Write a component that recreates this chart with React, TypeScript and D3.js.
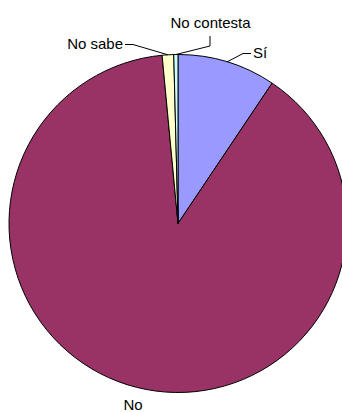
import React, { useEffect, useRef } from 'react'
import * as d3 from 'd3'

const categories = ['Sí', 'No', 'No sabe', 'No contesta']
const values = [9.4, 89.1, 1.1, 0.4]
const colors = ['#9999FF', '#993366', '#FFFFCC', '#CCFFFF']

const width = 342
const height = 412

// label layout: elbow point and text anchor, per slice
const labelLayout: Record<string, { elbow?: [number, number]; end?: [number, number]; text: [number, number]; anchor: string }> = {
  'Sí': { elbow: [243, 53.5], end: [251, 53.5], text: [253, 58], anchor: 'start' },
  'No': { text: [133, 410], anchor: 'middle' },
  'No sabe': { elbow: [133, 44.5], end: [125, 44.5], text: [123, 49], anchor: 'end' },
  'No contesta': { elbow: [210, 46], end: [210, 36], text: [210.5, 27.5], anchor: 'middle' },
}

export default function App() {
  const ref = useRef<SVGSVGElement | null>(null)
  useEffect(() => {
    if (!ref.current) return
    const svg = d3.select(ref.current)
    svg.selectAll('*').remove()

    const cx = 178
    const cy = 223.5
    const r = 169

    const data = categories.map((c, i) => ({ name: c, value: values[i], color: colors[i] }))
    const pie = d3.pie<any>().sort(null).value((d) => d.value)
    const arcs = pie(data)
    const arc = d3.arc<any>().innerRadius(0).outerRadius(r)

    const g = svg.append('g').attr('transform', `translate(${cx},${cy})`)
    g.selectAll('path')
      .data(arcs)
      .join('path')
      .attr('d', arc)
      .attr('fill', (d) => d.data.color)
      .attr('stroke', '#000')
      .attr('stroke-width', 1)
      .attr('stroke-linejoin', 'round')

    arcs.forEach((a) => {
      const lay = labelLayout[a.data.name]
      const mid = (a.startAngle + a.endAngle) / 2
      const px = cx + r * Math.sin(mid)
      const py = cy - r * Math.cos(mid)
      if (lay.elbow && lay.end) {
        svg
          .append('polyline')
          .attr('points', `${px},${py} ${lay.elbow[0]},${lay.elbow[1]} ${lay.end[0]},${lay.end[1]}`)
          .attr('fill', 'none')
          .attr('stroke', '#000')
          .attr('stroke-width', 1)
      }
      svg
        .append('text')
        .attr('x', lay.text[0])
        .attr('y', lay.text[1])
        .attr('text-anchor', lay.anchor)
        .style('font-family', '"Liberation Sans", Arial, sans-serif')
        .style('font-size', '15px')
        .style('fill', '#000')
        .text(a.data.name)
    })
  }, [])

  return (
    <svg
      ref={ref}
      width={width}
      height={height}
      style={{ position: 'absolute', left: 0, top: 0, background: '#fff' }}
    />
  )
}
